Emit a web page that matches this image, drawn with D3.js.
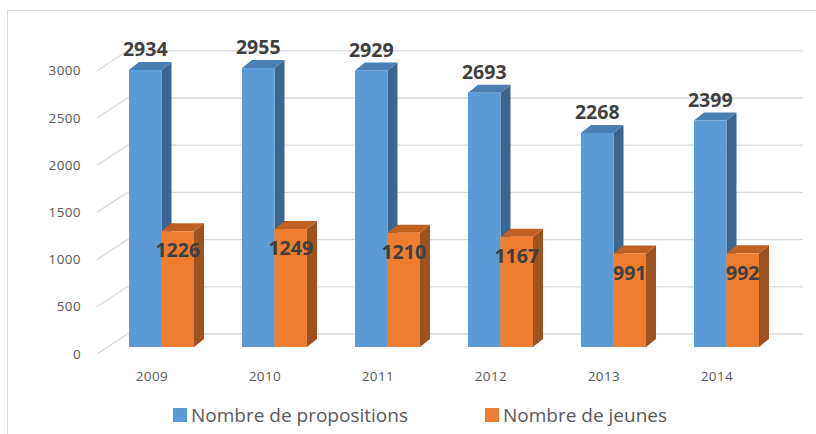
<!DOCTYPE html>
<html><head><meta charset="utf-8">
<script src="https://cdn.jsdelivr.net/npm/d3@7"></script>
<style>html,body{margin:0;padding:0;background:#fff;}svg{display:block;}</style>
</head><body>
<svg id="c" width="816" height="434"></svg>
<script>
const years = ["2009","2010","2011","2012","2013","2014"];
const seriesNames = ["Nombre de propositions","Nombre de jeunes"];
const propositions = [2934, 2955, 2929, 2693, 2268, 2399];
const jeunes = [1226, 1249, 1210, 1167, 991, 992];
const yTicks = [0, 500, 1000, 1500, 2000, 2500, 3000];

const faceColors = ["#5B9BD5", "#ED7D31"];
const sideColors = ["#3A6690", "#9E521F"];
const topColors  = ["#4A7FB4", "#BF6020"];

const svg = d3.select("#c");
// frame
svg.append("rect").attr("x",7.5).attr("y",10.5).attr("width",830).attr("height",440)
  .attr("fill","none").attr("stroke","#d9d9d9").attr("stroke-width",1);

const x = d3.scaleBand().domain(years).range([105, 783]).paddingInner(0.425).paddingOuter(0.2125);
const xs = d3.scaleBand().domain(seriesNames).range([0, x.bandwidth()]);
const y = d3.scaleLinear().domain([0, 3000]).range([347, 63.8]);

// depth offsets
const frontDX = -10.5, frontDY = 7;   // bar plane -> front axis
const backDX = 20, backDY = -13;      // bar plane -> back wall
const barDX = 10, barDY = -8;         // bar depth
const planeX = 107.5, backRight = 803;

// gridlines (back wall + floor diagonal)
const grid = svg.append("g");
yTicks.forEach(v => {
  const yb = y(v);
  grid.append("line").attr("x1", planeX + backDX).attr("x2", backRight)
    .attr("y1", yb + backDY).attr("y2", yb + backDY)
    .attr("stroke", "#d9d9d9").attr("stroke-width", 1.3);
  grid.append("line").attr("x1", planeX + frontDX).attr("y1", yb + frontDY)
    .attr("x2", planeX + backDX).attr("y2", yb + backDY)
    .attr("stroke", "#d9d9d9").attr("stroke-width", 1.3);
});

// y tick labels
svg.append("g").selectAll("text").data(yTicks).join("text")
  .attr("x", 81).attr("y", d => y(d) + frontDY + 1)
  .attr("text-anchor", "end").attr("dominant-baseline", "middle")
  .attr("font-family", "'Open Sans', sans-serif").attr("font-size", 13.5)
  .attr("letter-spacing", 0.4)
  .attr("fill", "#595959").text(d => d);

// x labels
svg.append("g").selectAll("text").data(years).join("text")
  .attr("x", d => x(d) + x.bandwidth()/2 + frontDX + 1)
  .attr("y", 377).attr("text-anchor", "middle").attr("dominant-baseline", "middle")
  .attr("font-family", "'Open Sans', sans-serif").attr("font-size", 13.5)
  .attr("letter-spacing", 0.4)
  .attr("fill", "#595959").text(d => d);

// bars
const data = [propositions, jeunes];
const bars = svg.append("g");
years.forEach((yr, i) => {
  data.forEach((arr, s) => {
    const v = arr[i];
    const x0 = x(yr) + xs(seriesNames[s]);
    const w = xs.bandwidth();
    const yt = y(v), yb = y(0);
    const g = bars.append("g");
    g.append("path").attr("d",
      `M${x0+w},${yb} L${x0+w+barDX},${yb+barDY} L${x0+w+barDX},${yt+barDY} L${x0+w},${yt} Z`)
      .attr("fill", sideColors[s]);
    g.append("path").attr("d",
      `M${x0},${yt} L${x0+barDX},${yt+barDY} L${x0+w+barDX},${yt+barDY} L${x0+w},${yt} Z`)
      .attr("fill", topColors[s]);
    g.append("rect").attr("x", x0).attr("y", yt).attr("width", w).attr("height", yb - yt)
      .attr("fill", faceColors[s]);
  });
});

// data labels
const lab = svg.append("g").attr("font-family", "'Open Sans', sans-serif")
  .attr("font-weight", "bold").attr("font-size", 19.5).attr("fill", "#404040");
years.forEach((yr, i) => {
  const w = xs.bandwidth();
  const xb = x(yr) + xs(seriesNames[0]) + w/2;
  lab.append("text").attr("x", xb).attr("y", y(propositions[i]) - 14)
    .attr("text-anchor", "middle").text(propositions[i]);
  const xo = x(yr) + xs(seriesNames[1]) + w/2;
  lab.append("text").attr("x", xo).attr("y", y(jeunes[i]) + 21)
    .attr("text-anchor", "middle").attr("dominant-baseline", "middle").text(jeunes[i]);
});

// legend
const legendX = [173, 485];
const leg = svg.append("g");
seriesNames.forEach((n, s) => {
  leg.append("rect").attr("x", legendX[s]).attr("y", 408).attr("width", 14).attr("height", 14)
    .attr("fill", faceColors[s]);
  leg.append("text").attr("x", legendX[s] + 18).attr("y", 421.5)
    .attr("font-family", "'Open Sans', sans-serif").attr("font-size", 19)
    .attr("fill", "#595959").text(n);
});
</script>
</body></html>
